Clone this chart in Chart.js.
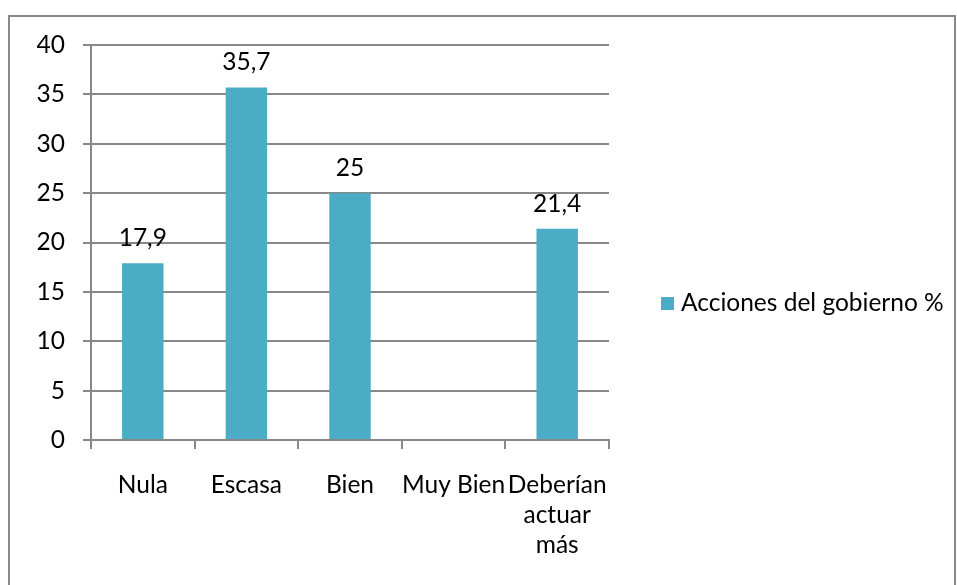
<!DOCTYPE html>
<html>
<head>
<meta charset="utf-8">
<script src="https://cdn.jsdelivr.net/npm/chart.js@4.4.1/dist/chart.umd.min.js"></script>
<style>
  html, body { margin: 0; padding: 0; background: #fff; }
  #wrap { position: relative; width: 957px; height: 585px; overflow: hidden; }
  #frame { position: absolute; left: 8px; top: 15px; width: 948px; height: 700px; border: 2px solid #888; box-sizing: border-box; }
  #chart { position: absolute; left: 0; top: 0; }
</style>
</head>
<body>
<div id="wrap">
  <div id="frame"></div>
  <canvas id="chart" width="957" height="585"></canvas>
</div>
<script>
const categories = ['Nula', 'Escasa', 'Bien', 'Muy Bien', ['Deberían', 'actuar', 'más']];
const seriesLabel = 'Acciones del gobierno %';
const values = [17.9, 35.7, 25, null, 21.4];
const yMin = 0;
const yMax = 40;
const yStep = 5;

const barColor = '#4BACC6';
const lineColor = '#888888';
const fontFamily = 'Lato';
const fontSize = 24.5;

// value labels over the bars, comma as decimal mark
const barLabels = {
  id: 'barLabels',
  afterDatasetsDraw(chart) {
    const ctx = chart.ctx;
    const meta = chart.getDatasetMeta(0);
    ctx.save();
    ctx.font = `${fontSize}px "${fontFamily}"`;
    ctx.fillStyle = '#000';
    ctx.textAlign = 'center';
    ctx.textBaseline = 'middle';
    meta.data.forEach((bar, i) => {
      const v = values[i];
      if (v === null) return;
      ctx.fillText(String(v).replace('.', ','), bar.x, bar.y - 25);
    });
    ctx.restore();
  },
};

// legend sits to the right of the plot, vertically centred
const sideLegend = {
  id: 'sideLegend',
  afterDraw(chart) {
    const ctx = chart.ctx;
    const x = 661;
    const y = 303;
    ctx.save();
    ctx.fillStyle = barColor;
    ctx.fillRect(x, y - 6, 13, 13);
    ctx.font = `${fontSize}px "${fontFamily}"`;
    ctx.fillStyle = '#000';
    ctx.textAlign = 'left';
    ctx.textBaseline = 'middle';
    ctx.fillText(chart.data.datasets[0].label, x + 20, y);
    ctx.restore();
  },
};

new Chart(document.getElementById('chart'), {
  type: 'bar',
  data: {
    labels: categories,
    datasets: [
      {
        label: seriesLabel,
        data: values,
        backgroundColor: barColor,
        barPercentage: 0.4,
        categoryPercentage: 1,
      },
    ],
  },
  options: {
    responsive: false,
    animation: false,
    layout: { padding: { left: 0, top: 45, right: 348, bottom: 0 } },
    plugins: {
      legend: { display: false },
      tooltip: { enabled: false },
    },
    scales: {
      x: {
        grid: {
          offset: true,
          drawOnChartArea: false,
          drawTicks: true,
          tickLength: 9,
          color: lineColor,
          lineWidth: 2,
        },
        border: { color: lineColor, width: 2 },
        ticks: {
          color: '#000',
          padding: 21,
          autoSkip: false,
          maxRotation: 0,
          minRotation: 0,
          font: { family: fontFamily, size: fontSize, lineHeight: 30 / fontSize },
        },
        afterFit(scale) {
          scale.height = 145;
        },
      },
      y: {
        min: yMin,
        max: yMax,
        ticks: {
          stepSize: yStep,
          color: '#000',
          padding: 18,
          font: { family: fontFamily, size: fontSize },
        },
        grid: {
          color: lineColor,
          lineWidth: 2,
          tickLength: 8,
        },
        border: { color: lineColor, width: 2 },
        afterFit(scale) {
          scale.width = 91;
        },
      },
    },
  },
  plugins: [barLabels, sideLegend],
});
</script>
</body>
</html>
